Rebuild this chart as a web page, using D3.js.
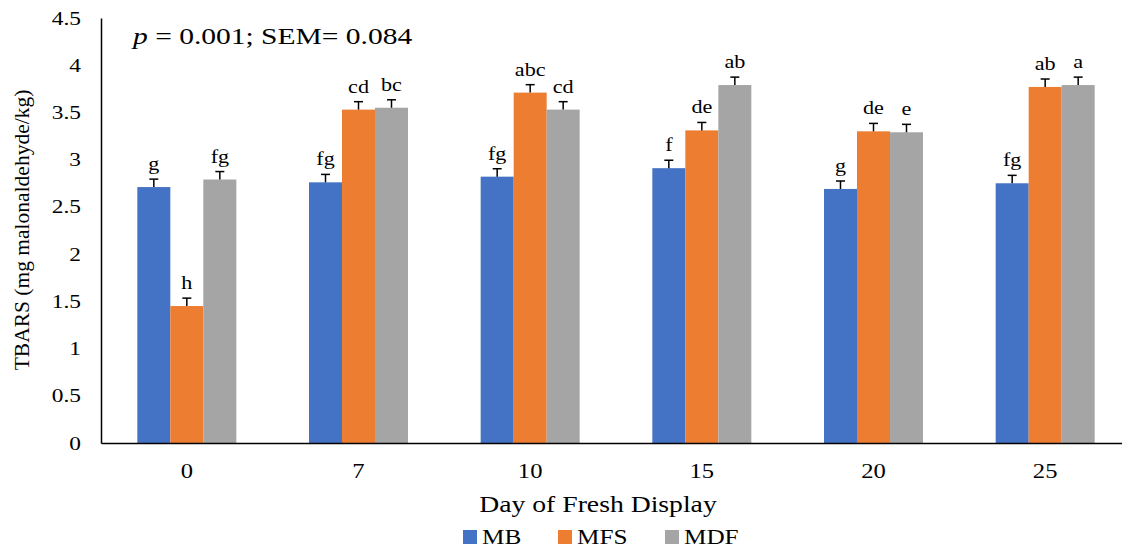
<!DOCTYPE html>
<html><head><meta charset="utf-8">
<script src="https://cdn.jsdelivr.net/npm/d3@7"></script>
</head><body style="margin:0">
<svg id="c" width="1122" height="554"></svg>
<script>
const days = ["0","7","10","15","20","25"];
const seriesNames = ["MB","MFS","MDF"];
const colors = ["#4472C4","#ED7D31","#A5A5A5"];
const valuesMB  = [2.71, 2.76, 2.82, 2.91, 2.69, 2.75];
const valuesMFS = [1.45, 3.53, 3.71, 3.31, 3.30, 3.77];
const valuesMDF = [2.79, 3.55, 3.53, 3.79, 3.29, 3.79];
const lettersMB  = ["g","fg","fg","f","g","fg"];
const lettersMFS = ["h","cd","abc","de","de","ab"];
const lettersMDF = ["fg","bc","cd","ab","e","a"];
const sem = 0.084;
const yTicks = [0,0.5,1,1.5,2,2.5,3,3.5,4,4.5];

const values = [valuesMB, valuesMFS, valuesMDF];
const letters = [lettersMB, lettersMFS, lettersMDF];

const FONT = "Liberation Serif";
const SX = 1.23; // horizontal stretch of text glyphs in the reference
const svg = d3.select("#c");
const pLeft = 101, pRight = 1131, pTop = 18, pBottom = 443;
const y = d3.scaleLinear().domain([0,4.5]).range([pBottom, pTop]);
const x0 = d3.scaleBand().domain(days).range([pLeft, pRight]).paddingInner(0.4233).paddingOuter(0.4233/2);
const x1 = d3.scaleBand().domain(seriesNames).range([0, x0.bandwidth()]);

function txt(parent, x, yy, size, str, anchor) {
  return parent.append("text")
    .attr("transform", `translate(${x},${yy}) scale(${SX},1)`)
    .attr("text-anchor", anchor || "start")
    .attr("font-size", size)
    .style("font-family", FONT)
    .attr("fill", "#000")
    .text(str);
}

// bars
seriesNames.forEach((s, si) => {
  const g = svg.append("g");
  days.forEach((d, di) => {
    const v = values[si][di];
    const bx = x0(d) + x1(s);
    g.append("rect").attr("x", bx).attr("y", y(v)).attr("width", x1.bandwidth()).attr("height", y(0) - y(v)).attr("fill", colors[si]);
    const cx = bx + x1.bandwidth()/2;
    g.append("line").attr("x1", cx).attr("x2", cx).attr("y1", y(v)).attr("y2", y(v+sem)).attr("stroke","#000").attr("stroke-width",1.5);
    g.append("line").attr("x1", cx-4.5).attr("x2", cx+4.5).attr("y1", y(v+sem)).attr("y2", y(v+sem)).attr("stroke","#000").attr("stroke-width",1.5);
    txt(g, cx, y(v+sem) - 9, 18, letters[si][di], "middle");
  });
});

// y axis
const ya = svg.append("g").attr("transform", `translate(${pLeft},0)`)
  .call(d3.axisLeft(y).tickValues(yTicks).tickSize(0).tickPadding(20).tickFormat(d3.format("")));
ya.attr("font-family", null).attr("font-size", null);
ya.select(".domain").attr("stroke","#000").attr("stroke-width",1.5);
ya.selectAll(".tick text").attr("font-size",19).style("font-family",FONT).attr("fill","#000")
  .attr("x", -20 / SX).attr("transform", `scale(${SX},1)`);

// x axis
const xa = svg.append("g").attr("transform", `translate(0,${pBottom})`)
  .call(d3.axisBottom(x0).tickSize(0).tickPadding(21).tickSizeOuter(0));
xa.attr("font-family", null).attr("font-size", null);
xa.select(".domain").attr("stroke","#000").attr("stroke-width",1.5);
xa.selectAll(".tick text").attr("font-size",20).style("font-family",FONT).attr("fill","#000")
  .attr("transform", `scale(${SX},1)`);

// titles
txt(svg, 598, 512, 22.5, "Day of Fresh Display", "middle");
svg.append("text").attr("transform","translate(29,230) rotate(-90)").attr("text-anchor","middle")
  .attr("font-size",21.5).style("font-family",FONT).attr("fill","#000").text("TBARS (mg malonaldehyde/kg)");

const t = txt(svg, 133, 44, 24, "", "start");
t.append("tspan").style("font-style","italic").style("font-family",FONT).text("p");
t.append("tspan").style("font-family",FONT).text(" = 0.001; SEM= 0.084");

// legend
const legX = [463, 558, 665];
seriesNames.forEach((s, si) => {
  svg.append("rect").attr("x", legX[si]).attr("y", 530).attr("width",14).attr("height",14).attr("fill", colors[si]);
  txt(svg, legX[si] + 19, 544, 20.5, s, "start");
});
</script></body></html>
